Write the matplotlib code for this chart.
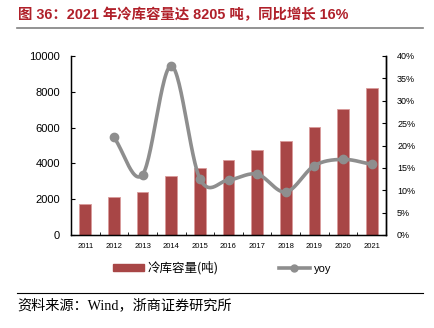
import numpy as np
import matplotlib.pyplot as plt
from matplotlib.lines import Line2D
from matplotlib.patches import Patch

plt.rcParams['font.family'] = ['Liberation Sans', 'Noto Sans CJK SC', 'DejaVu Sans']

years = ['2011', '2012', '2013', '2014', '2015', '2016', '2017', '2018', '2019', '2020', '2021']
capacity = [1710, 2100, 2380, 3290, 3720, 4165, 4760, 5225, 6020, 7045, 8205]
yoy_years = years[1:]
yoy = [21.8, 13.5, 37.8, 12.6, 12.3, 13.6, 9.6, 15.5, 16.9, 15.8]

BAR = '#A84646'
GREY = '#8E8E8E'
W, H = 434, 328


def smooth(xs, ys, n=30):
    # catmull-rom curve through the points, like the office "smoothed line"
    xs = np.asarray(xs, float)
    ys = np.asarray(ys, float)
    px = np.concatenate(([2 * xs[0] - xs[1]], xs, [2 * xs[-1] - xs[-2]]))
    py = np.concatenate(([2 * ys[0] - ys[1]], ys, [2 * ys[-1] - ys[-2]]))
    ox, oy = [], []
    t = np.linspace(0, 1, n)
    for i in range(1, len(px) - 2):
        for p, out in ((px, ox), (py, oy)):
            p0, p1, p2, p3 = p[i - 1], p[i], p[i + 1], p[i + 2]
            out.extend(0.5 * (2 * p1 + (-p0 + p2) * t
                              + (2 * p0 - 5 * p1 + 4 * p2 - p3) * t ** 2
                              + (-p0 + 3 * p1 - 3 * p2 + p3) * t ** 3))
    return np.array(ox), np.array(oy)


fig = plt.figure(figsize=(W / 100, H / 100), dpi=100)

# title + rule
fig.text(18 / W, 1 - 15 / H, '图 36：2021 年冷库容量达 8205 吨，同比增长 16%',
         fontsize=10.4, fontweight='bold', color='#B0202A', va='center', ha='left',
         family=['Liberation Sans', 'Noto Sans CJK SC', 'DejaVu Sans'])
fig.add_artist(Line2D([17 / W, 423 / W], [1 - 27.5 / H] * 2, color='#808080', lw=1.2))

ax = fig.add_axes([71 / W, 1 - 235 / H, (386 - 71) / W, (235 - 56) / H])
x = np.arange(len(years))
ax.bar(x, capacity, width=0.41, color=BAR, edgecolor='#D99A9A', linewidth=0.6, zorder=2)
ax.set_xlim(-0.5, len(years) - 0.5)
ax.set_ylim(0, 10000)
ax.set_yticks(np.arange(0, 10001, 2000))
ax.tick_params(axis='y', direction='in', length=3, labelsize=8, pad=8)
ax.set_xticks(x)
ax.set_xticklabels(years)
ax.tick_params(axis='x', length=0, labelsize=5.5, pad=6)
ax.set_xticks(x[:-1] + 0.5, minor=True)
ax.tick_params(axis='x', which='minor', direction='in', length=2.5)
ax.spines['top'].set_visible(False)
for s in ['left', 'bottom', 'right']:
    ax.spines[s].set_linewidth(1.0)

ax2 = ax.twinx()
xi = np.arange(1, len(years))
sx, sy = smooth(xi, yoy)
ax2.plot(sx, sy, color=GREY, lw=2.6, solid_capstyle='round', zorder=3)
ax2.plot(xi, yoy, 'o', color=GREY, ms=6, zorder=4)
ax2.set_ylim(0, 40)
ax2.set_yticks(np.arange(0, 41, 5))
ax2.set_yticklabels([f'{v}%' for v in range(0, 41, 5)])
ax2.tick_params(axis='y', direction='in', length=3, labelsize=6.5, pad=8)
ax2.spines['top'].set_visible(False)
ax2.spines['right'].set_linewidth(1.0)

handles = [Patch(color=BAR),
           Line2D([], [], color=GREY, lw=2.6, marker='o', ms=5)]
leg = fig.legend(handles, ['冷库容量(吨)', 'yoy'], loc='center', ncol=2,
                 bbox_to_anchor=(222 / W, 1 - 268 / H), frameon=False,
                 handlelength=2.5, handleheight=0.45,
                 columnspacing=4.8, handletextpad=0.3,
                 prop={'family': ['Noto Sans CJK SC', 'DejaVu Sans'], 'size': 9})
leg.get_texts()[1].set_fontfamily(['Liberation Sans'])
leg.get_texts()[1].set_fontsize(8)

fig.add_artist(Line2D([17 / W, 423 / W], [1 - 293 / H] * 2, color='black', lw=0.8))
fig.text(17 / W, 1 - 305 / H, '资料来源：Wind，浙商证券研究所', fontsize=10.2,
         va='center', ha='left',
         family=['Liberation Serif', 'Noto Sans CJK SC', 'DejaVu Sans'])

fig.savefig('out.png', dpi=100)
